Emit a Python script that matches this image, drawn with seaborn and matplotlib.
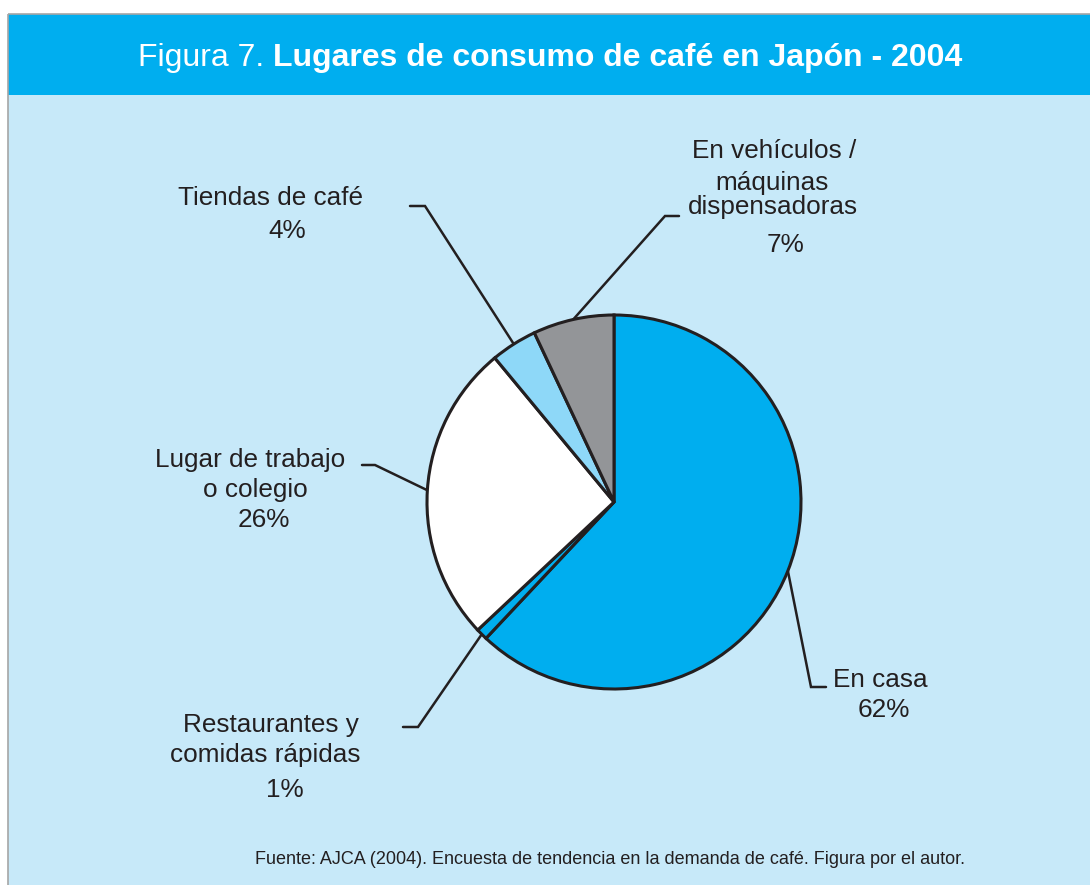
import numpy as np
import matplotlib
matplotlib.use("Agg")
import matplotlib.pyplot as plt
import seaborn as sns
from matplotlib.patches import Rectangle
from matplotlib import font_manager

# ---- data ----
categories = ["En casa", "Restaurantes y comidas rápidas", "Lugar de trabajo o colegio",
              "Tiendas de café", "En vehículos / máquinas dispensadoras"]
values = [62, 1, 26, 4, 7]
label_lines = [["En casa"], ["Restaurantes y", "comidas rápidas"], ["Lugar de trabajo", "o colegio"],
               ["Tiendas de café"], ["En vehículos /", "máquinas", "dispensadoras"]]
colors = ["#00AEEF", "#00AEEF", "#FFFFFF", "#8ED8F8", "#939598"]

title_normal = "Figura 7. "
title_bold = "Lugares de consumo de café en Japón - 2004"
source = "Fuente: AJCA (2004). Encuesta de tendencia en la demanda de café. Figura por el autor."

sns.set_style("white")
names = {f.name for f in font_manager.fontManager.ttflist}
main_font = ["Liberation Sans", "DejaVu Sans"]
narrow = "Liberation Sans Narrow" if "Liberation Sans Narrow" in names else "Liberation Sans"
plt.rcParams["font.family"] = main_font

W, H = 1090, 885
fig = plt.figure(figsize=(W / 100, H / 100), dpi=100)
fig.patch.set_facecolor("white")

# overlay axes in pixel coordinates
ov = fig.add_axes([0, 0, 1, 1])
ov.set_xlim(0, W)
ov.set_ylim(H, 0)
ov.axis("off")

BODY = "#C7E9F9"
BAR = "#00AEEF"
ov.add_patch(Rectangle((8, 95), W - 8, H - 95, facecolor=BODY, edgecolor="none", zorder=0))
ov.add_patch(Rectangle((8, 14), W - 8, 81, facecolor=BAR, edgecolor="none", zorder=0))
ov.plot([8, W], [14, 14], color="#A6A6A6", lw=1.2, zorder=1, solid_capstyle="butt")
ov.plot([8, 8], [14, H], color="#A6A6A6", lw=1.2, zorder=1, solid_capstyle="butt")

# pie axes
CX, CY, R = 614, 502, 187
pax = fig.add_axes([(CX - R) / W, (H - CY - R) / H, 2 * R / W, 2 * R / H])
wedges, _ = pax.pie(values, colors=colors, startangle=90, counterclock=False, radius=1,
                    wedgeprops=dict(edgecolor="#231F20", linewidth=2.2))
pax.set_xlim(-1, 1)
pax.set_ylim(-1, 1)
pax.axis("off")

# leader lines: from wedge mid-angle on the rim to elbow, then horizontal
elbows = [((811, 687), (826, 687)),
          ((418, 727), (403, 727)),
          ((375, 465), (362, 465)),
          ((425, 206), (410, 206)),
          ((665, 216), (679, 216))]
LC = "#231F20"
for w, (e1, e2) in zip(wedges, elbows):
    th = np.deg2rad((w.theta1 + w.theta2) / 2)
    px = CX + R * np.cos(th)
    py = CY - R * np.sin(th)
    ov.plot([px, e1[0], e2[0]], [py, e1[1], e2[1]], color=LC, lw=1.8, zorder=2,
            solid_joinstyle="miter")

# labels (each line, baseline positions)
FS = 18.8
TC = "#231F20"
label_pos = [[(880, 687)], [(271, 732), (265, 762)], [(250, 467), (255, 497)],
             [(271, 205)], [(774, 158), (772, 190), (773, 214)]]
pct_pos = [(884, 717), (285, 797), (264, 527), (287, 238), (786, 252)]
for lines, poss, v, pp in zip(label_lines, label_pos, values, pct_pos):
    for t, (x, y) in zip(lines, poss):
        ov.text(x, y, t, ha="center", va="baseline", fontsize=FS, color=TC)
    ov.text(pp[0], pp[1], f"{v}%", ha="center", va="baseline", fontsize=FS, color=TC)

# title with mixed weight
TFS = 23
t1 = ov.text(0, 66, title_normal, ha="left", va="baseline", fontsize=TFS, color="white")
t2 = ov.text(0, 66, title_bold, ha="left", va="baseline", fontsize=TFS, color="white",
             fontweight="bold")
fig.canvas.draw()
r = fig.canvas.get_renderer()
w1 = t1.get_window_extent(r).width
w2 = t2.get_window_extent(r).width
x0 = 550 - (w1 + w2) / 2
t1.set_x(x0)
t2.set_x(x0 + w1)

ov.text(610, 864, source, ha="center", va="baseline", fontsize=13, color=TC,
        family=[narrow, "DejaVu Sans"])

fig.savefig("out.png", dpi=100, facecolor=fig.get_facecolor())
